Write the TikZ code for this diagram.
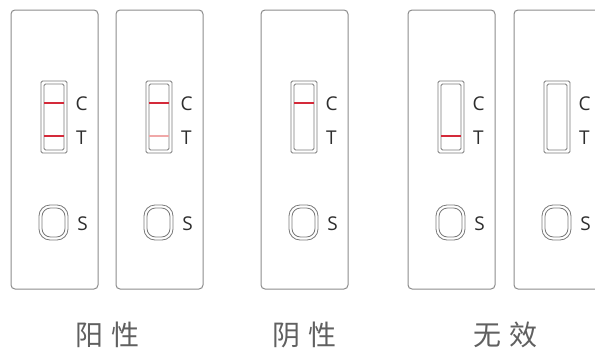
\documentclass[tikz,border=0pt]{standalone}
\usepackage{fontspec}
\setsansfont{Open Sans}
\newfontfamily\cjk{Noto Sans CJK SC}
\definecolor{cardgray}{HTML}{8C8C8C}
\definecolor{wingray}{HTML}{7A7A7A}
\definecolor{lineRed}{HTML}{D42A3A}
\definecolor{faintRed}{HTML}{F0A8A8}
\definecolor{txtgray}{HTML}{2E2E2E}
\definecolor{cngray}{HTML}{606060}
\tikzset{
  cardbox/.style={draw=cardgray, line width=1pt, rounded corners=4pt, fill=white},
  winbox/.style={draw=wingray, line width=0.8pt, rounded corners=1.5pt},
  ovalbox/.style={draw=wingray, line width=0.8pt},
  letter/.style={font=\sffamily\fontsize{19}{19}\selectfont, text=txtgray, inner sep=0pt, anchor=center},
  result/.style={font=\cjk\fontsize{28}{28}\selectfont, text=cngray, inner sep=0pt, anchor=center},
  bandline/.style={line width=1.1pt},
}
\newcommand\drawcard[4]{% #1 name, #2 x-left, #3 C colour, #4 T colour
  \begin{scope}[shift={(#2,0)}]
    \draw[cardbox] (0,10) rectangle (87,289);
    \node[coordinate] (#1) at (43.5,150) {};
    \draw[winbox] (30,81) rectangle (56,153);
    \draw[winbox] (33,84) rectangle (53,150);
    \ifx#3n\else\draw[bandline, draw=#3] (33,103) -- (53,103);\fi
    \ifx#4n\else\draw[bandline, draw=#4] (33,136) -- (53,136);\fi
    \draw[ovalbox, rounded corners=11pt] (28,205) rectangle (57,240);
    \draw[ovalbox, rounded corners=8.5pt] (31,208) rectangle (54,237);
    \node[letter] (#1C) at (70.5,104) {C};
    \node[letter] (#1T) at (70.5,137.5) {T};
    \node[letter] (#1S) at (71.5,224) {S};
  \end{scope}}
\begin{document}
\begin{tikzpicture}[x=1pt, y=-1pt]
  \useasboundingbox (0,0) rectangle (595,351);
  \clip (0,0) rectangle (595,351);
  \fill[white] (0,0) rectangle (595,351);
  \drawcard{cardA}{11}{lineRed}{lineRed}
  \drawcard{cardB}{116}{lineRed}{faintRed}
  \drawcard{cardC}{261}{lineRed}{n}
  \drawcard{cardD}{408}{n}{lineRed}
  \drawcard{cardE}{514}{n}{n}
  \node[result] (pos) at (107.5,335) {阳\hspace{8pt}性};
  \node[result] (neg) at (304.5,335) {阴\hspace{8pt}性};
  \node[result] (inv) at (505.5,335) {无\hspace{8pt}效};
\end{tikzpicture}
\end{document}
